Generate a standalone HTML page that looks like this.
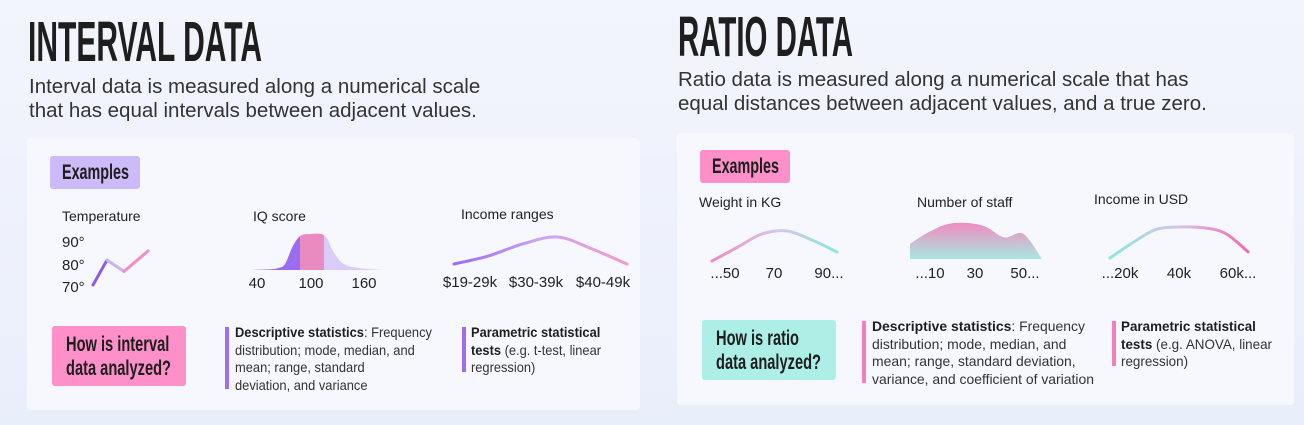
<!DOCTYPE html>
<html><head><meta charset="utf-8">
<style>
*{margin:0;padding:0;box-sizing:border-box}
body{width:1304px;height:425px;overflow:hidden;background:linear-gradient(180deg,#f3f5fc,#e9eefb);font-family:"Liberation Sans",sans-serif;color:#222;position:relative}
.a{position:absolute;white-space:nowrap}
.t{font-family:"Liberation Sans",sans-serif;font-weight:bold;color:#1e1e1e}
.fit{display:inline-block;transform-origin:left top;white-space:nowrap}
.h{font-size:57px;line-height:57px}
.sub{font-size:20.5px;line-height:24px;color:#333}
.card{position:absolute;background:#f6f8fe;border-radius:4px}
.badge{position:absolute;border-radius:3px}
.badge span{position:absolute;left:12px;top:6px;font-size:21px;line-height:22px}
.q{position:absolute;border-radius:3px}
.q span{position:absolute;left:14px;top:7px;font-size:21px;line-height:24px}
.lbl{font-size:14px;color:#222}
.bar{position:absolute;width:4px}
.txt{position:absolute;font-size:14px;line-height:17.6px;color:#333;white-space:nowrap}
.txt b{color:#1e1e1e}
svg{position:absolute;left:0;top:0}
</style></head><body>
<div class="a t" style="left:28px;top:14px"><span class="fit h" data-w="234">INTERVAL DATA</span></div>
<div class="a sub" style="left:29px;top:75px">Interval data is measured along a numerical scale<br>that has equal intervals between adjacent values.</div>
<div class="a t" style="left:678px;top:9px"><span class="fit h" data-w="175">RATIO DATA</span></div>
<div class="a sub" style="left:678px;top:68px">Ratio data is measured along a numerical scale that has<br>equal distances between adjacent values, and a true zero.</div>

<div class="card" style="left:27px;top:138px;width:613px;height:272px"></div>
<div class="card" style="left:677px;top:133px;width:617px;height:272px"></div>

<div class="badge t" style="left:50px;top:156px;width:90px;height:33px;background:#cdbaf8"><span class="fit" data-w="67">Examples</span></div>
<div class="badge t" style="left:700px;top:150px;width:90px;height:33px;background:#fd90c8"><span class="fit" data-w="67">Examples</span></div>

<div class="a lbl" style="left:62px;top:208px">Temperature</div>
<div class="a lbl" style="left:253px;top:208px">IQ score</div>
<div class="a lbl" style="left:461px;top:206px">Income ranges</div>
<div class="a lbl" style="left:699px;top:194px">Weight in KG</div>
<div class="a lbl" style="left:917px;top:194px">Number of staff</div>
<div class="a lbl" style="left:1094px;top:191px">Income in USD</div>

<svg width="1304" height="425" id="charts">
<defs>
<linearGradient id="g1" x1="0" x2="1"><stop offset="0" stop-color="#9a6cf0"/><stop offset="0.5" stop-color="#c9a6f4"/><stop offset="1" stop-color="#f79ac8"/></linearGradient>
<linearGradient id="g2" x1="0" x2="1"><stop offset="0" stop-color="#f48ac0"/><stop offset="0.5" stop-color="#d6c4ec"/><stop offset="1" stop-color="#8fe6dc"/></linearGradient>
<linearGradient id="g3" x1="0" x2="1"><stop offset="0" stop-color="#8fe6dc"/><stop offset="0.5" stop-color="#d6c4ec"/><stop offset="1" stop-color="#f26aae"/></linearGradient>
<linearGradient id="g4" x1="0" y1="0" x2="0" y2="1"><stop offset="0" stop-color="#f08cc0"/><stop offset="1" stop-color="#a8e8e0"/></linearGradient>
</defs>
</svg>

<div class="q t" style="left:52px;top:326px;width:134px;height:60px;background:#fd90c8"><span class="fit" data-w="105">How is interval<br>data analyzed?</span></div>
<div class="bar" style="left:225px;top:327px;height:62px;background:#9b6ef2"></div>
<div class="txt" style="left:235px;top:324px"><span class="fit" data-w="197"><b>Descriptive statistics</b>: Frequency<br>distribution; mode, median, and<br>mean; range, standard<br>deviation, and variance</span></div>
<div class="bar" style="left:462px;top:327px;height:45px;background:#9b6ef2"></div>
<div class="txt" style="left:471px;top:324px"><span class="fit" data-w="130"><b>Parametric statistical<br>tests</b> (e.g. t-test, linear<br>regression)</span></div>

<div class="q t" style="left:702px;top:320px;width:134px;height:60px;background:#adeee6"><span class="fit" data-w="105">How is ratio<br>data analyzed?</span></div>
<div class="bar" style="left:862px;top:321px;height:62px;background:#f57fbd"></div>
<div class="txt" style="left:872px;top:318px"><span class="fit" data-w="222"><b>Descriptive statistics</b>: Frequency<br>distribution; mode, median, and<br>mean; range, standard deviation,<br>variance, and coefficient of variation</span></div>
<div class="bar" style="left:1112px;top:321px;height:45px;background:#f57fbd"></div>
<div class="txt" style="left:1121px;top:318px"><span class="fit" data-w="151"><b>Parametric statistical<br>tests</b> (e.g. ANOVA, linear<br>regression)</span></div>

<script>
const tempValues=[70,81,76,85];
const tempTicks=["90°","80°","70°"];
const iqX=[40,58,68,75,82,90,100,110,116,122,132,148,172];
const iqY=[0,1,3,10,38,57,60,60,52,30,10,3,0];
const incomeRangeY=[0.0,0.3,0.75,1.0,0.55,0.0];
const weightY=[0.0,0.45,0.9,1.0,0.7,0.3];
const staffY=[0.42,0.75,0.97,1.0,0.9,0.6,0.7,0.0];
const incomeUsdY=[0.0,0.5,0.92,1.0,0.98,0.8,0.2];
const iqTicks=["40","100","160"];
const incomeTicks=["$19-29k","$30-39k","$40-49k"];
const weightTicks=["...50","70","90..."];
const staffTicks=["...10","30","50..."];
const usdTicks=["...20k","40k","60k..."];

document.querySelectorAll('.fit').forEach(el=>{const w=el.getBoundingClientRect().width;const t=+el.getAttribute('data-w');el.style.transform='scaleX('+(t/w)+')';});

const svg=document.getElementById('charts');
const NS='http://www.w3.org/2000/svg';
function mk(t,a){const e=document.createElementNS(NS,t);for(const k in a)e.setAttribute(k,a[k]);svg.appendChild(e);return e;}
function cr(pts){let d='M'+pts[0][0]+','+pts[0][1];for(let i=0;i<pts.length-1;i++){const p0=pts[i-1]||pts[i],p1=pts[i],p2=pts[i+1],p3=pts[i+2]||p2;
d+=' C'+(p1[0]+(p2[0]-p0[0])/6)+','+(p1[1]+(p2[1]-p0[1])/6)+' '+(p2[0]-(p3[0]-p1[0])/6)+','+(p2[1]-(p3[1]-p1[1])/6)+' '+p2[0]+','+p2[1];}return d;}
function txt(x,y,s,anchor){const e=mk('text',{x:x,y:y,'font-size':'15','text-anchor':anchor||'middle','font-family':'Liberation Sans, sans-serif',fill:'#222'});e.textContent=s;return e;}

// Temperature
{const ty=v=>285-(v-70)/15*34;const xs=[93,107,124,148];
[241,264,286].forEach((y,i)=>{const e=txt(62,y+6,tempTicks[i],'start');});
const pts=tempValues.map((v,i)=>[xs[i],ty(v)]);
const cols=['#8a5cf0','#c7b2f5','#f58cc3'];
for(let i=0;i<3;i++){const l=mk('line',{x1:pts[i][0],y1:pts[i][1],x2:pts[i+1][0],y2:pts[i+1][1],stroke:cols[i],'stroke-width':3,'stroke-linecap':'round'});

}}

// IQ distribution
{const sx=v=>249+(v-40)/(172-40)*136, sy=v=>270-v/60*36;
const pts=iqX.map((v,i)=>[sx(v),sy(iqY[i])]);
const path=cr(pts)+' L'+sx(172)+',270 L'+sx(40)+',270 Z';
const cp=mk('clipPath',{id:'iqclip'});const pp=document.createElementNS(NS,'path');pp.setAttribute('d',path);cp.appendChild(pp);
const regions=[[40,89.5,'#9a6cf0'],[89.5,113,'#e98bc0'],[113,172,'#d9ccf8']];
regions.forEach(r=>{const e=mk('rect',{x:sx(r[0]),y:228,width:sx(r[1])-sx(r[0]),height:43,fill:r[2],'clip-path':'url(#iqclip)'});

});
[257,311,364].forEach((x,i)=>{const e=txt(x,288,iqTicks[i]);});}

function curve(x0,x1,base,h,vals,grad,w,name){const pts=vals.map((v,i)=>[x0+i*(x1-x0)/(vals.length-1),base-v*h]);
const e=mk('path',{d:cr(pts),fill:'none',stroke:grad,'stroke-width':w,'stroke-linecap':'round'});

}
curve(454,627,264,27,incomeRangeY,'url(#g1)',3,'income-ranges-curve');
[470,536,603].forEach((x,i)=>{const e=txt(x,287,incomeTicks[i]);});
curve(712,837,261,30,weightY,'url(#g2)',3,'weight-curve');
[725,774,829].forEach((x,i)=>{const e=txt(x,278,weightTicks[i]);});
{const x0=910,x1=1042,base=259,h=36;const pts=staffY.map((v,i)=>[x0+i*(x1-x0)/(staffY.length-1),base-v*h]);
const d='M'+x0+','+base+' L'+cr(pts).slice(1)+' L'+x1+','+base+' Z';
const e=mk('path',{d:d,fill:'url(#g4)'});


[930,975,1025].forEach((x,i)=>{const t=txt(x,278,staffTicks[i]);});}
curve(1110,1248,258,31,incomeUsdY,'url(#g3)',3,'income-usd-curve');
[1120,1179,1238].forEach((x,i)=>{const e=txt(x,278,usdTicks[i]);});
</script>
</body></html>
